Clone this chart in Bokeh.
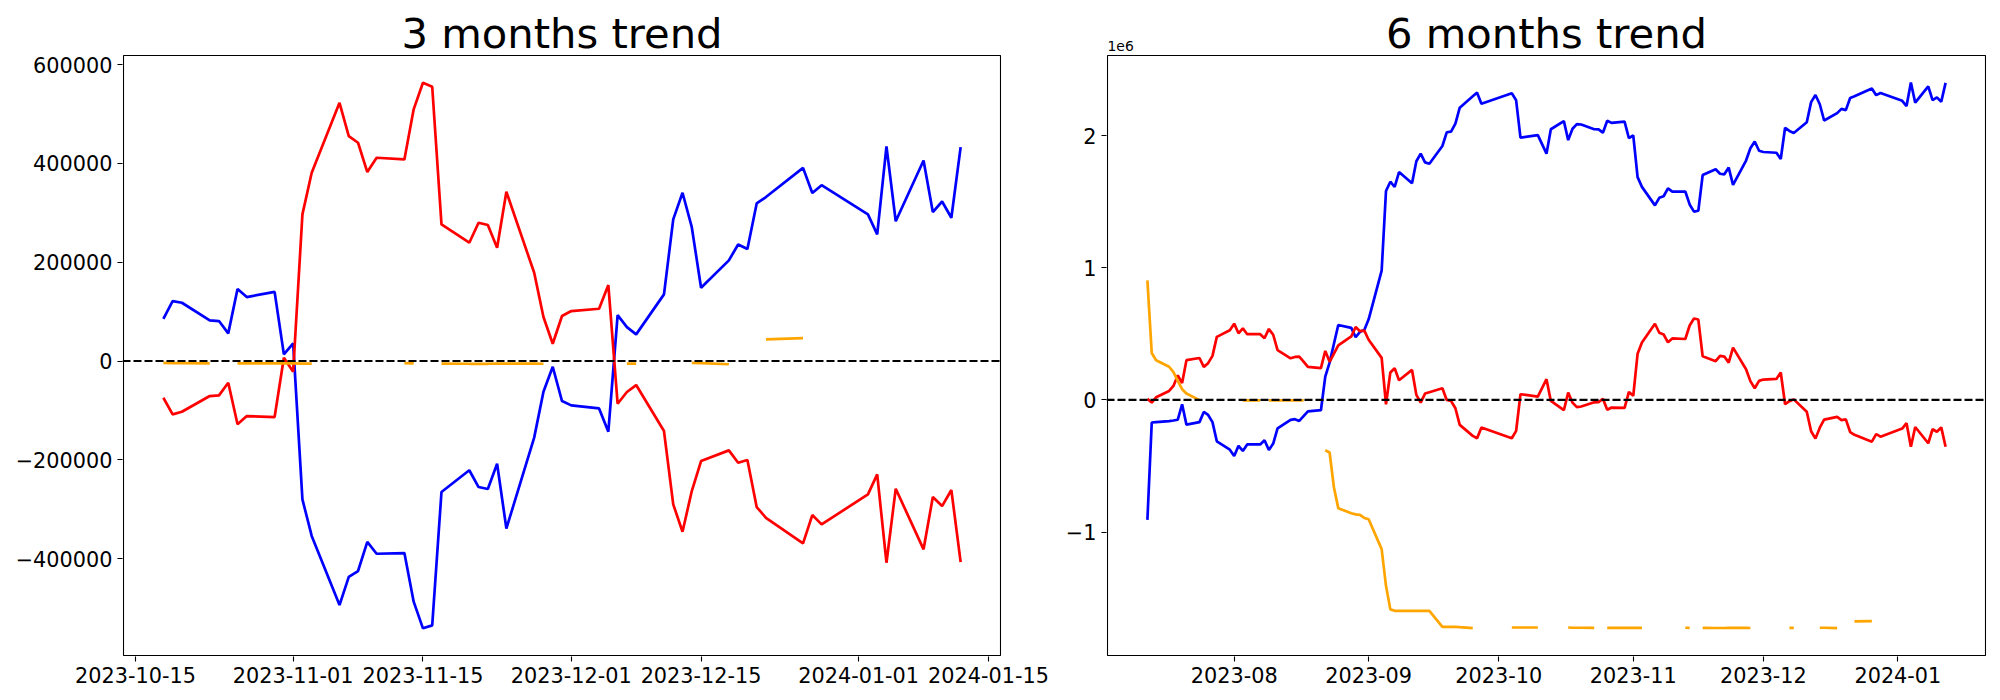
import numpy as np
import pandas as pd
from bokeh.plotting import figure
from bokeh.models import Range1d, FixedTicker, Span, DatetimeTickFormatter
from bokeh.core.properties import value
from bokeh.layouts import row
from bokeh.embed import file_html
from bokeh.resources import INLINE

nan = None

# ---------------- 3 months data ----------------
dates_3m = ["2023-10-18","2023-10-19","2023-10-20","2023-10-23","2023-10-24","2023-10-25","2023-10-26","2023-10-27","2023-10-30","2023-10-31",
            "2023-11-01","2023-11-02","2023-11-03","2023-11-06","2023-11-07","2023-11-08","2023-11-09","2023-11-10","2023-11-13","2023-11-14",
            "2023-11-15","2023-11-16","2023-11-17","2023-11-20","2023-11-21","2023-11-22","2023-11-23","2023-11-24","2023-11-27","2023-11-28",
            "2023-11-29","2023-11-30","2023-12-01","2023-12-04","2023-12-05","2023-12-06","2023-12-07","2023-12-08","2023-12-11","2023-12-12",
            "2023-12-13","2023-12-14","2023-12-15","2023-12-18","2023-12-19","2023-12-20","2023-12-21","2023-12-22","2023-12-26","2023-12-27",
            "2023-12-28","2024-01-02","2024-01-03","2024-01-04","2024-01-05","2024-01-08","2024-01-09","2024-01-10","2024-01-11","2024-01-12"]
blue_3m = [85600, 121400, 118000, 82400, 81000, 56000, 146000, 129500, 140000, 13500,
           35800, -280000, -354000, -494000, -437000, -425000, -366000, -390000, -388600, -487000,
           -541000, -535000, -265000, -221000, -255000, -259000, -208000, -339000, -155000, -62000,
           -11500, -81000, -89700, -95800, -143000, 93000, 68800, 54000, 135000, 286800,
           340700, 271000, 148400, 203800, 236000, 226700, 319000, 332000, 391000, 340000,
           356000, 297000, 256500, 434600, 283000, 406000, 301600, 323000, 290000, 433000]
red_3m = [-74300, -108000, -102600, -70800, -69500, -43900, -128000, -111300, -113300, 6700,
          -21600, 296900, 381200, 522800, 455400, 441900, 382600, 411500, 408200, 509500,
          563300, 555300, 276700, 239500, 280000, 275300, 229300, 342700, 178700, 89100,
          35000, 91100, 101200, 105900, 153800, -86400, -62700, -48600, -141700, -290100,
          -345500, -263100, -202400, -180800, -205800, -200400, -295500, -317200, -369000, -311700,
          -330600, -269900, -229400, -408200, -258400, -381100, -275300, -293500, -261100, -406900]
orange_3m = [-3500, -4000, -4000, -4500, nan, nan, -4500, -4500, -4500, -4500,
             -4500, -5000, -5000, nan, nan, nan, nan, nan, -4000, -4500,
             nan, nan, -5000, -5500, -5500, -5500, -5000, -5000, -5000, -5500,
             nan, nan, nan, nan, nan, nan, -5000, -5000, nan, nan,
             nan, -3500, -4000, -6500, nan, nan, nan, 44000, 46500, nan,
             nan, nan, nan, nan, nan, nan, nan, nan, nan, nan]
xticks_3m = ["2023-10-15", "2023-11-01", "2023-11-15", "2023-12-01", "2023-12-15", "2024-01-01", "2024-01-15"]
yticks_3m = [-400000, -200000, 0, 200000, 400000, 600000]

# ---------------- 6 months data (values in units of 1e6) ----------------
dates_6m = ["2023-07-12","2023-07-13","2023-07-14","2023-07-17","2023-07-18","2023-07-19","2023-07-20","2023-07-21","2023-07-24","2023-07-25",
            "2023-07-26","2023-07-27","2023-07-28","2023-07-31","2023-08-01","2023-08-02","2023-08-03","2023-08-04","2023-08-07","2023-08-08",
            "2023-08-09","2023-08-10","2023-08-11","2023-08-14","2023-08-15","2023-08-16","2023-08-17","2023-08-18","2023-08-21","2023-08-22",
            "2023-08-23","2023-08-24","2023-08-25","2023-08-28","2023-08-29","2023-08-30","2023-08-31","2023-09-01","2023-09-04","2023-09-05",
            "2023-09-06","2023-09-07","2023-09-08","2023-09-11","2023-09-12","2023-09-13","2023-09-14","2023-09-15","2023-09-18","2023-09-19",
            "2023-09-20","2023-09-21","2023-09-22","2023-09-25","2023-09-26","2023-09-27","2023-10-04","2023-10-05","2023-10-06","2023-10-10",
            "2023-10-12","2023-10-13","2023-10-16","2023-10-17"] + dates_3m
blue_6m = [-0.908, -0.171, -0.168, -0.160, -0.156, -0.150, -0.033, -0.187, -0.168, -0.091,
           -0.114, -0.168, -0.313, -0.377, -0.424, -0.348, -0.386, -0.337, -0.337, -0.305,
           -0.379, -0.330, -0.216, -0.151, -0.146, -0.159, -0.123, -0.087, -0.078, 0.176,
           0.282, 0.425, 0.567, 0.545, 0.474, 0.515, 0.529, 0.610, 0.978, 1.581,
           1.651, 1.611, 1.724, 1.639, 1.806, 1.863, 1.797, 1.787, 1.921, 2.025,
           2.030, 2.090, 2.211, 2.298, 2.325, 2.241, 2.320, 2.267, 1.984, 2.003,
           1.863, 2.048, 2.110, 1.966,
           2.052, 2.087, 2.084, 2.048, 2.047, 2.022, 2.112, 2.096, 2.106, 1.980,
           2.002, 1.686, 1.612, 1.472, 1.529, 1.541, 1.600, 1.576, 1.577, 1.479,
           1.425, 1.431, 1.701, 1.745, 1.711, 1.707, 1.758, 1.627, 1.811, 1.904,
           1.955, 1.885, 1.876, 1.870, 1.823, 2.059, 2.035, 2.020, 2.101, 2.253,
           2.307, 2.237, 2.114, 2.170, 2.202, 2.193, 2.285, 2.298, 2.357, 2.306,
           2.322, 2.263, 2.223, 2.401, 2.249, 2.372, 2.268, 2.289, 2.256, 2.399]
red_6m = [0.008, -0.020, 0.020, 0.068, 0.106, 0.186, 0.127, 0.301, 0.317, 0.250,
          0.278, 0.333, 0.477, 0.527, 0.577, 0.504, 0.542, 0.497, 0.497, 0.467,
          0.537, 0.493, 0.376, 0.315, 0.325, 0.328, 0.290, 0.250, 0.240, 0.371,
          0.288, 0.350, 0.412, 0.480, 0.552, 0.520, 0.524, 0.455, 0.318, -0.033,
          0.207, 0.240, 0.149, 0.227, 0.038, -0.020, 0.048, 0.058, 0.088, 0.000,
          -0.008, -0.063, -0.189, -0.272, -0.290, -0.209, -0.290, -0.234, 0.043, 0.025,
          0.157, -0.008, -0.078, 0.055,
          -0.021, -0.055, -0.050, -0.018, -0.017, 0.009, -0.075, -0.058, -0.060, 0.060,
          0.031, 0.350, 0.434, 0.576, 0.508, 0.495, 0.436, 0.465, 0.461, 0.563,
          0.616, 0.608, 0.330, 0.293, 0.333, 0.328, 0.282, 0.396, 0.232, 0.142,
          0.088, 0.144, 0.154, 0.159, 0.207, -0.033, -0.010, 0.004, -0.089, -0.237,
          -0.293, -0.210, -0.149, -0.128, -0.153, -0.147, -0.243, -0.264, -0.316, -0.259,
          -0.278, -0.217, -0.176, -0.355, -0.205, -0.328, -0.222, -0.241, -0.208, -0.354]
orange_6m = [0.905, 0.355, 0.300, 0.251, 0.210, 0.144, 0.081, 0.048, -0.002, nan,
             nan, nan, nan, nan, nan, nan, -0.003, -0.003, -0.003, nan,
             -0.003, -0.003, -0.003, -0.003, -0.003, -0.003, -0.003, nan, nan, -0.381,
             -0.398, -0.663, -0.819, -0.858, -0.866, -0.870, -0.893, -0.903, -1.129, -1.407,
             -1.585, -1.596, -1.596, -1.596, -1.596, -1.596, -1.596, -1.596, -1.717, -1.717,
             -1.717, -1.717, -1.720, -1.727, nan, nan, -1.722, -1.722, -1.722, -1.722,
             nan, nan, nan, -1.722,
             -1.724, -1.724, -1.724, -1.725, nan, nan, -1.725, -1.725, -1.725, -1.725,
             -1.725, -1.725, -1.725, nan, nan, nan, nan, nan, -1.724, -1.725,
             nan, nan, -1.725, -1.726, -1.726, -1.726, -1.725, -1.725, -1.725, -1.726,
             nan, nan, nan, nan, nan, nan, -1.725, -1.725, nan, nan,
             nan, -1.724, -1.724, -1.727, nan, nan, nan, -1.676, -1.674, nan,
             nan, nan, nan, nan, nan, nan, nan, nan, nan, nan]
xticks_6m = ["2023-08-01", "2023-09-01", "2023-10-01", "2023-11-01", "2023-12-01", "2024-01-01"]
yticks_6m = [-1, 0, 1, 2]

FONT = "DejaVu Sans"
TOP_EXTRA = 50   # px of frame above the axes box (room for the title)
PAD = 1          # px of frame around the axes box
TITLE_PX = 41.7
OFFSET_PX = 13.9


def ms(s):
    return pd.Timestamp(s).value / 1e6


def make_panel(title, box_x, box_y, box_w, box_h, min_left, min_right, date_fmt,
               dates, blue, red, orange, xticks, yticks, offset_text=None):
    x0, x1 = ms(box_x[0]), ms(box_x[1])
    y0, y1 = box_y
    xpp = (x1 - x0) / box_w
    ypp = (y1 - y0) / box_h
    p = figure(x_axis_type="datetime",
               frame_width=box_w + 2 * PAD, frame_height=box_h + PAD + TOP_EXTRA,
               min_border_left=min_left, min_border_right=min_right,
               min_border_top=5, min_border_bottom=32,
               output_backend="svg", toolbar_location=None,
               x_range=Range1d(x0 - PAD * xpp, x1 + PAD * xpp),
               y_range=Range1d(y0 - PAD * ypp, y1 + TOP_EXTRA * ypp))
    p.outline_line_color = None
    p.xgrid.visible = False
    p.ygrid.visible = False

    x = pd.to_datetime(dates)
    p.line(x, np.array(blue, dtype=float), line_color="blue", line_width=2.7)
    p.line(x, np.array(red, dtype=float), line_color="red", line_width=2.7)
    p.line(x, np.array(orange, dtype=float), line_color="orange", line_width=2.7)
    p.add_layout(Span(location=0, dimension="width", line_color="black",
                      line_width=2.1, line_dash="8 3"))

    # axes box
    p.quad(left=[x0], right=[x1], bottom=[y0], top=[y1], fill_color=None,
           line_color="black", line_width=1.1)

    # title (and offset text) above the box; y is the text's vertical middle
    p.text(x=[(x0 + x1) / 2], y=[y1 + (8 + 0.346 * TITLE_PX) * ypp], text=[title],
           text_align="center", text_baseline="middle", text_font=value(FONT),
           text_font_size=f"{TITLE_PX}px", text_color="black")
    if offset_text:
        p.text(x=[x0], y=[y1 + (4.3 + 0.346 * OFFSET_PX) * ypp], text=[offset_text],
               text_align="left", text_baseline="middle", text_font=value(FONT),
               text_font_size=f"{OFFSET_PX}px", text_color="black")

    for ax in (p.xaxis[0], p.yaxis[0]):
        ax.axis_line_color = None
        ax.major_tick_line_color = "black"
        ax.major_tick_line_width = 1.1
        ax.major_tick_out = 5
        ax.major_tick_in = 0
        ax.minor_tick_line_color = None
        ax.major_label_text_font = FONT
        ax.major_label_text_font_size = "20.8px"
        ax.major_label_text_color = "black"
        ax.major_label_standoff = 5

    p.xaxis[0].ticker = FixedTicker(ticks=[ms(d) for d in xticks])
    p.xaxis[0].formatter = DatetimeTickFormatter(
        microseconds=date_fmt, milliseconds=date_fmt, seconds=date_fmt, minsec=date_fmt,
        minutes=date_fmt, hourmin=date_fmt, hours=date_fmt, days=date_fmt,
        months=date_fmt, years=date_fmt)
    p.yaxis[0].ticker = FixedTicker(ticks=yticks)
    p.yaxis[0].major_label_overrides = {v: (str(v) if v >= 0 else "\u2212" + str(-v)) for v in yticks}
    return p


p1 = make_panel("3 months trend",
                ("2023-10-13 16:48", "2024-01-16 07:12"), (-596000, 618500), 877, 600,
                122, 52, "%Y-%m-%d", dates_3m, blue_3m, red_3m, orange_3m, xticks_3m, yticks_3m)
p2 = make_panel("6 months trend",
                ("2023-07-02 19:12", "2024-01-21 04:48"), (-1.934, 2.606), 878, 600,
                53, 4, "%Y-%m", dates_6m, blue_6m, red_6m, orange_6m, xticks_6m, yticks_6m,
                offset_text="1e6")

layout = row(p1, p2)
open("out.html", "w").write(file_html(layout, INLINE))
